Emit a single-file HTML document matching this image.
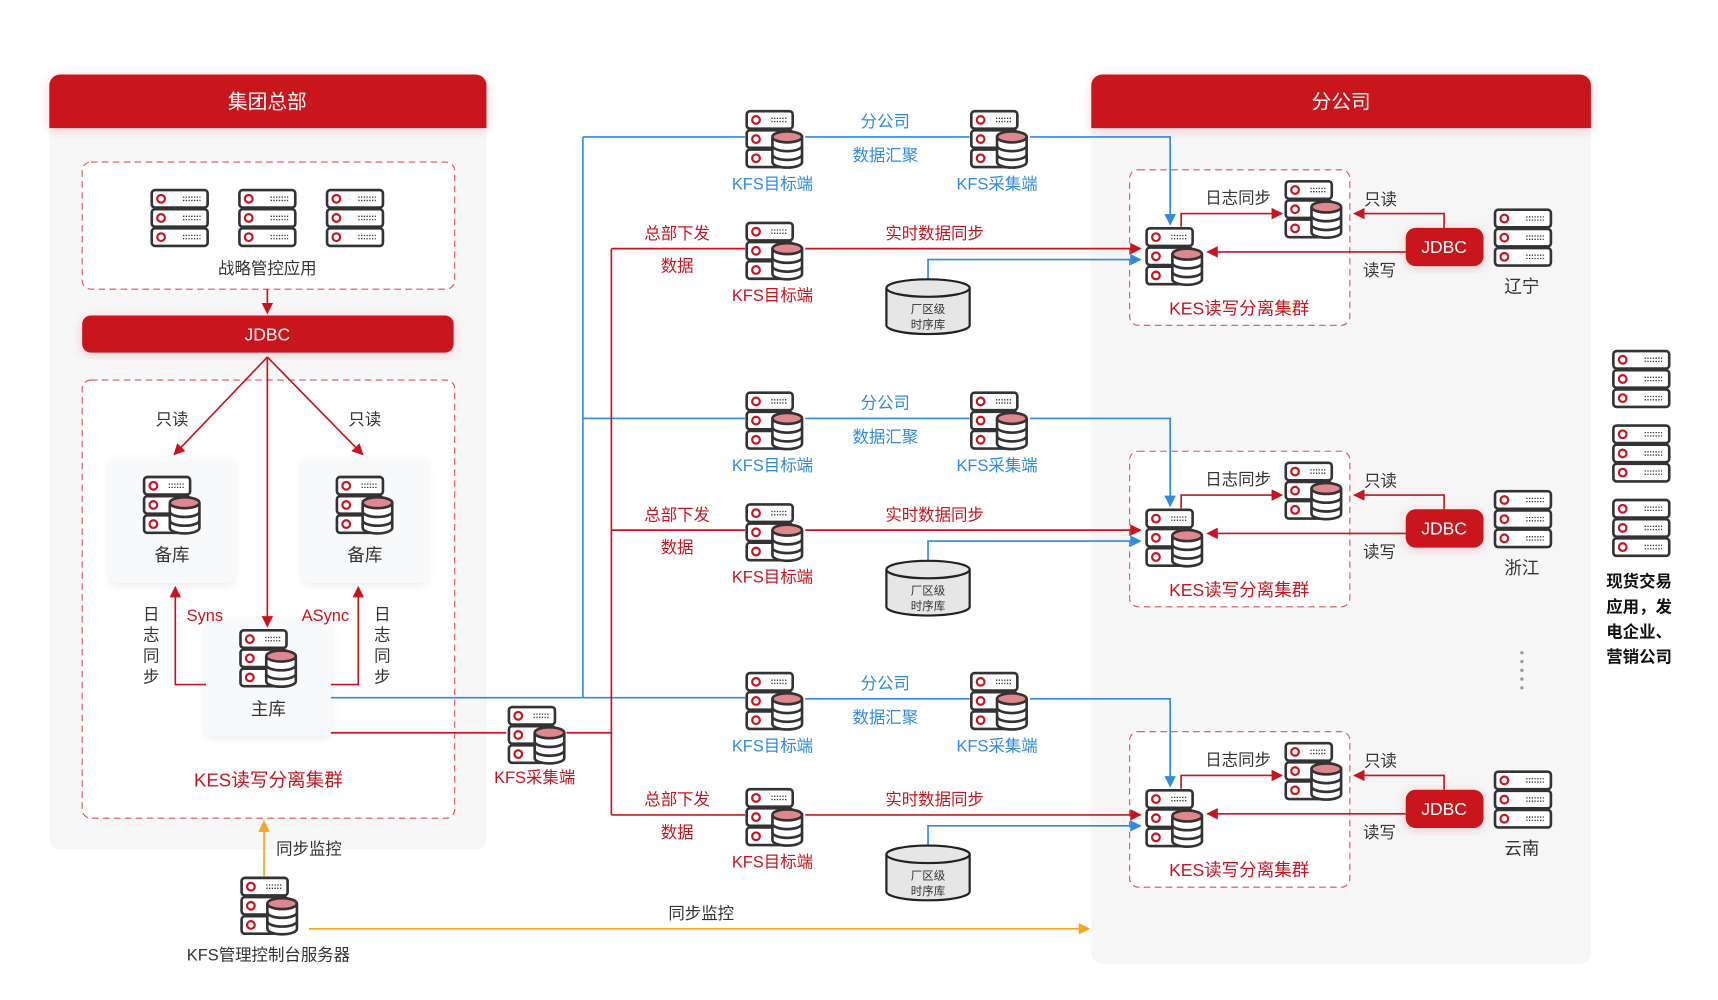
<!DOCTYPE html>
<html><head><meta charset="utf-8"><style>
html,body{margin:0;padding:0;background:#fff;width:1718px;height:1000px;overflow:hidden}
svg{display:block}
text{font-family:"Liberation Sans","Noto Sans CJK SC",sans-serif}
</style></head><body>
<svg width="1718" height="1000" viewBox="0 0 1568 913" preserveAspectRatio="none" xmlns="http://www.w3.org/2000/svg">
<defs>
<marker id="ar" viewBox="0 0 10 10" refX="9" refY="5" markerWidth="7" markerHeight="7" orient="auto-start-reverse"><path d="M0,0L10,5L0,10z" fill="#c8141f"/></marker>
<marker id="ab" viewBox="0 0 10 10" refX="9" refY="5" markerWidth="7" markerHeight="7" orient="auto-start-reverse"><path d="M0,0L10,5L0,10z" fill="#2f8ae0"/></marker>
<marker id="ao" viewBox="0 0 10 10" refX="9" refY="5" markerWidth="7" markerHeight="7" orient="auto-start-reverse"><path d="M0,0L10,5L0,10z" fill="#f5a623"/></marker>
<symbol id="rack" viewBox="0 0 54 54">
<g stroke="#333" stroke-width="2.4" fill="#fff">
<rect x="1.5" y="1.5" width="51" height="16" rx="3"/><rect x="1.5" y="19" width="51" height="16" rx="3"/><rect x="1.5" y="36.5" width="51" height="16" rx="3"/></g>
<g stroke="#c8141f" stroke-width="2" fill="none"><circle cx="10" cy="9.5" r="3.5"/><circle cx="10" cy="27" r="3.5"/><circle cx="10" cy="44.5" r="3.5"/></g>
<g stroke="#333" stroke-width="1.2" stroke-dasharray="1.2 1.3"><path d="M30 8H46M30 11H46M30 25.5H46M30 28.5H46M30 43H46M30 46H46"/></g>
</symbol>
<symbol id="db" viewBox="0 0 54 56">
<g stroke="#333" stroke-width="2.4" fill="#fff">
<rect x="1.5" y="1.5" width="42" height="16" rx="3"/><rect x="1.5" y="19" width="42" height="16" rx="3"/><rect x="1.5" y="36.5" width="42" height="16" rx="3"/></g>
<g stroke="#c8141f" stroke-width="2" fill="none"><circle cx="10" cy="9.5" r="3.5"/><circle cx="10" cy="27" r="3.5"/><circle cx="10" cy="44.5" r="3.5"/></g>
<g stroke="#333" stroke-width="1.2" stroke-dasharray="1.2 1.3"><path d="M24 8H38M24 11H38"/></g>
<path d="M25 25V48A13.5 5 0 0 0 52 48V25" fill="#fff" stroke="#333" stroke-width="2.4"/>
<path d="M25 33A13.5 5 0 0 0 52 33M25 41A13.5 5 0 0 0 52 41" fill="none" stroke="#333" stroke-width="2.4"/>
<ellipse cx="38.5" cy="25" rx="13.5" ry="5" fill="#e0868d" stroke="#333" stroke-width="2.4"/>
</symbol>
<symbol id="cyl" viewBox="0 0 80 54">
<path d="M2 10V44A38 8 0 0 0 78 44V10" fill="#e6e6e6" stroke="#222" stroke-width="2"/>
<ellipse cx="40" cy="10" rx="38" ry="8" fill="#e6e6e6" stroke="#222" stroke-width="2"/>
</symbol>
<filter id="sh" x="-20%" y="-20%" width="140%" height="140%"><feDropShadow dx="0" dy="2" stdDeviation="5" flood-color="#c8141f" flood-opacity="0.18"/></filter>
<filter id="sg" x="-20%" y="-20%" width="140%" height="140%"><feDropShadow dx="0" dy="2" stdDeviation="4" flood-color="#000" flood-opacity="0.08"/></filter>
<g id="rowbase">
<rect x="1031" y="155" width="201" height="142" rx="8" fill="#fff" stroke="#e0505a" stroke-width="1" stroke-dasharray="6 4"/>
<use href="#db" x="680" y="100" width="54" height="56"/>
<use href="#db" x="885" y="100" width="54" height="56"/>
<use href="#db" x="1045" y="207" width="54" height="56"/>
<use href="#db" x="1172" y="164" width="54" height="56"/>
<g fill="none" stroke-width="1.5">
<line x1="735" y1="125" x2="885" y2="125" stroke="#2f8ae0"/>
<polyline points="940,125 1068,125 1068,205" stroke="#2f8ae0" marker-end="url(#ab)"/>
</g>
<g fill="none" stroke="#c8141f" stroke-width="1.5">
<polyline points="1078,207 1078,195 1170,195" marker-end="url(#ar)"/>
<polyline points="1318,208 1318,195 1236,195" marker-end="url(#ar)"/>
<line x1="1283" y1="230" x2="1102" y2="230" marker-end="url(#ar)"/>
</g>
<rect x="1283" y="208" width="71" height="35" rx="9" fill="#c8141f" filter="url(#sh)"/>
<use href="#rack" x="1363" y="190" width="54" height="54"/>
</g>
</defs>

<!-- Left panel -->
<rect x="45" y="68" width="399" height="708" rx="10" fill="#f7f7f7"/>
<path d="M45 117V78A10 10 0 0 1 55 68H434A10 10 0 0 1 444 78V117Z" fill="#c8141f" filter="url(#sh)"/>
<text x="244" y="99" font-size="18" fill="#fff" text-anchor="middle">集团总部</text>
<rect x="75" y="148" width="340" height="116" rx="8" fill="#fff" stroke="#e0505a" stroke-width="1" stroke-dasharray="6 4"/>
<use href="#rack" x="137" y="172" width="54" height="54"/>
<use href="#rack" x="217" y="172" width="54" height="54"/>
<use href="#rack" x="297" y="172" width="54" height="54"/>
<text x="244" y="250" font-size="15" fill="#333" text-anchor="middle">战略管控应用</text>
<line x1="244" y1="264" x2="244" y2="286" stroke="#c8141f" stroke-width="1.5" marker-end="url(#ar)"/>
<rect x="75" y="288" width="339" height="34" rx="8" fill="#c8141f" filter="url(#sh)"/>
<text x="244" y="311" font-size="16" fill="#fff" text-anchor="middle">JDBC</text>
<rect x="75" y="347" width="340" height="400" rx="8" fill="#fff" stroke="#e0505a" stroke-width="1" stroke-dasharray="6 4"/>
<rect x="100" y="418" width="114" height="114" rx="6" fill="#f8f9fb" filter="url(#sg)"/>
<rect x="276" y="418" width="114" height="114" rx="6" fill="#f8f9fb" filter="url(#sg)"/>
<rect x="188" y="565" width="114" height="107" rx="6" fill="#f8f9fb" filter="url(#sg)"/>
<use href="#db" x="130" y="434" width="54" height="56"/>
<use href="#db" x="306" y="434" width="54" height="56"/>
<use href="#db" x="218" y="574" width="54" height="56"/>
<text x="157" y="512" font-size="16" fill="#333" text-anchor="middle">备库</text>
<text x="333" y="512" font-size="16" fill="#333" text-anchor="middle">备库</text>
<text x="245" y="653" font-size="16" fill="#333" text-anchor="middle">主库</text>
<g stroke="#c8141f" stroke-width="1.5" fill="none">
<line x1="244" y1="326" x2="159" y2="415" marker-end="url(#ar)"/>
<line x1="244" y1="326" x2="331" y2="415" marker-end="url(#ar)"/>
<line x1="244" y1="326" x2="244" y2="572" marker-end="url(#ar)"/>
<polyline points="188,625 160,625 160,536" marker-end="url(#ar)"/>
<polyline points="302,625 327,625 327,536" marker-end="url(#ar)"/>
</g>
<text x="157" y="388" font-size="15" fill="#333" text-anchor="middle">只读</text>
<text x="333" y="388" font-size="15" fill="#333" text-anchor="middle">只读</text>
<text x="187" y="567" font-size="15" fill="#c8141f" text-anchor="middle">Syns</text>
<text x="297" y="567" font-size="15" fill="#c8141f" text-anchor="middle">ASync</text>
<g font-size="15" fill="#333" text-anchor="middle">
<text x="138" y="566">日</text><text x="138" y="585">志</text><text x="138" y="604">同</text><text x="138" y="623">步</text>
<text x="349" y="566">日</text><text x="349" y="585">志</text><text x="349" y="604">同</text><text x="349" y="623">步</text>
</g>
<text x="245" y="718" font-size="17" fill="#c8141f" text-anchor="middle">KES读写分离集群</text>

<!-- Right panel -->
<rect x="996" y="68" width="456" height="812" rx="10" fill="#f6f6f6"/>
<path d="M996 117V78A10 10 0 0 1 1006 68H1442A10 10 0 0 1 1452 78V117Z" fill="#c8141f" filter="url(#sh)"/>
<text x="1224" y="99" font-size="18" fill="#fff" text-anchor="middle">分公司</text>

<!-- trunk lines -->
<g fill="none" stroke-width="1.5">
<line x1="532" y1="125" x2="532" y2="637" stroke="#2f8ae0"/>
<line x1="302" y1="637" x2="680" y2="637" stroke="#2f8ae0"/>
<line x1="532" y1="125" x2="680" y2="125" stroke="#2f8ae0"/>
<line x1="532" y1="382" x2="680" y2="382" stroke="#2f8ae0"/>
<line x1="558" y1="227" x2="558" y2="744" stroke="#c8141f"/>
<line x1="302" y1="669" x2="462" y2="669" stroke="#c8141f"/>
<line x1="517" y1="669" x2="558" y2="669" stroke="#c8141f"/>
</g>
<use href="#db" x="463" y="644" width="54" height="56"/>
<text x="488" y="715" font-size="15" fill="#c8141f" text-anchor="middle">KFS采集端</text>

<!-- Row 1 -->
<g>
<use href="#rowbase"/>
<g fill="none" stroke-width="1.5">
<line x1="558" y1="227" x2="680" y2="227" stroke="#c8141f"/>
<line x1="735" y1="227" x2="1041" y2="227" stroke="#c8141f" marker-end="url(#ar)"/>
<polyline points="847,256 847,237 1041,237" stroke="#2f8ae0" marker-end="url(#ab)"/>
</g>
<use href="#db" x="680" y="202" width="54" height="56"/>
<use href="#cyl" x="807" y="253" width="80" height="54"/>
<text x="705" y="173" font-size="15" fill="#2f8ae0" text-anchor="middle">KFS目标端</text>
<text x="910" y="173" font-size="15" fill="#2f8ae0" text-anchor="middle">KFS采集端</text>
<text x="808" y="116" font-size="15" fill="#2f8ae0" text-anchor="middle">分公司</text>
<text x="808" y="147" font-size="15" fill="#2f8ae0" text-anchor="middle">数据汇聚</text>
<text x="618" y="218" font-size="15" fill="#c8141f" text-anchor="middle">总部下发</text>
<text x="618" y="248" font-size="15" fill="#c8141f" text-anchor="middle">数据</text>
<text x="705" y="275" font-size="15" fill="#c8141f" text-anchor="middle">KFS目标端</text>
<text x="853" y="218" font-size="15" fill="#c8141f" text-anchor="middle">实时数据同步</text>
<text x="847" y="286" font-size="10.5" fill="#333" text-anchor="middle">厂区级</text>
<text x="847" y="300" font-size="10.5" fill="#333" text-anchor="middle">时序库</text>
<text x="1130" y="186" font-size="15" fill="#333" text-anchor="middle">日志同步</text>
<text x="1260" y="187" font-size="15" fill="#333" text-anchor="middle">只读</text>
<text x="1259" y="252" font-size="15" fill="#333" text-anchor="middle">读写</text>
<text x="1318" y="231" font-size="16" fill="#fff" text-anchor="middle">JDBC</text>
<text x="1131" y="287" font-size="16" fill="#c8141f" text-anchor="middle">KES读写分离集群</text>
<text x="1389" y="267" font-size="16" fill="#333" text-anchor="middle">辽宁</text>
</g>

<!-- Row 2 -->
<g transform="translate(0,257)">
<use href="#rowbase"/>
<g fill="none" stroke-width="1.5">
<line x1="558" y1="227" x2="680" y2="227" stroke="#c8141f"/>
<line x1="735" y1="227" x2="1041" y2="227" stroke="#c8141f" marker-end="url(#ar)"/>
<polyline points="847,256 847,237 1041,237" stroke="#2f8ae0" marker-end="url(#ab)"/>
</g>
<use href="#db" x="680" y="202" width="54" height="56"/>
<use href="#cyl" x="807" y="253" width="80" height="54"/>
<text x="705" y="173" font-size="15" fill="#2f8ae0" text-anchor="middle">KFS目标端</text>
<text x="910" y="173" font-size="15" fill="#2f8ae0" text-anchor="middle">KFS采集端</text>
<text x="808" y="116" font-size="15" fill="#2f8ae0" text-anchor="middle">分公司</text>
<text x="808" y="147" font-size="15" fill="#2f8ae0" text-anchor="middle">数据汇聚</text>
<text x="618" y="218" font-size="15" fill="#c8141f" text-anchor="middle">总部下发</text>
<text x="618" y="248" font-size="15" fill="#c8141f" text-anchor="middle">数据</text>
<text x="705" y="275" font-size="15" fill="#c8141f" text-anchor="middle">KFS目标端</text>
<text x="853" y="218" font-size="15" fill="#c8141f" text-anchor="middle">实时数据同步</text>
<text x="847" y="286" font-size="10.5" fill="#333" text-anchor="middle">厂区级</text>
<text x="847" y="300" font-size="10.5" fill="#333" text-anchor="middle">时序库</text>
<text x="1130" y="186" font-size="15" fill="#333" text-anchor="middle">日志同步</text>
<text x="1260" y="187" font-size="15" fill="#333" text-anchor="middle">只读</text>
<text x="1259" y="252" font-size="15" fill="#333" text-anchor="middle">读写</text>
<text x="1318" y="231" font-size="16" fill="#fff" text-anchor="middle">JDBC</text>
<text x="1131" y="287" font-size="16" fill="#c8141f" text-anchor="middle">KES读写分离集群</text>
<text x="1389" y="267" font-size="16" fill="#333" text-anchor="middle">浙江</text>
</g>

<!-- Row 3 -->
<g transform="translate(0,513)">
<use href="#rowbase"/>
<g fill="none" stroke-width="1.5">
<line x1="558" y1="231" x2="680" y2="231" stroke="#c8141f"/>
<line x1="735" y1="231" x2="1041" y2="231" stroke="#c8141f" marker-end="url(#ar)"/>
<polyline points="847,258 847,241 1041,241" stroke="#2f8ae0" marker-end="url(#ab)"/>
</g>
<use href="#db" x="680" y="206" width="54" height="56"/>
<use href="#cyl" x="807" y="257" width="80" height="54"/>
<text x="705" y="173" font-size="15" fill="#2f8ae0" text-anchor="middle">KFS目标端</text>
<text x="910" y="173" font-size="15" fill="#2f8ae0" text-anchor="middle">KFS采集端</text>
<text x="808" y="116" font-size="15" fill="#2f8ae0" text-anchor="middle">分公司</text>
<text x="808" y="147" font-size="15" fill="#2f8ae0" text-anchor="middle">数据汇聚</text>
<text x="618" y="222" font-size="15" fill="#c8141f" text-anchor="middle">总部下发</text>
<text x="618" y="252" font-size="15" fill="#c8141f" text-anchor="middle">数据</text>
<text x="705" y="279" font-size="15" fill="#c8141f" text-anchor="middle">KFS目标端</text>
<text x="853" y="222" font-size="15" fill="#c8141f" text-anchor="middle">实时数据同步</text>
<text x="847" y="290" font-size="10.5" fill="#333" text-anchor="middle">厂区级</text>
<text x="847" y="304" font-size="10.5" fill="#333" text-anchor="middle">时序库</text>
<text x="1130" y="186" font-size="15" fill="#333" text-anchor="middle">日志同步</text>
<text x="1260" y="187" font-size="15" fill="#333" text-anchor="middle">只读</text>
<text x="1259" y="252" font-size="15" fill="#333" text-anchor="middle">读写</text>
<text x="1318" y="231" font-size="16" fill="#fff" text-anchor="middle">JDBC</text>
<text x="1131" y="287" font-size="16" fill="#c8141f" text-anchor="middle">KES读写分离集群</text>
<text x="1389" y="267" font-size="16" fill="#333" text-anchor="middle">云南</text>
</g>

<!-- dots -->
<g fill="#999"><circle cx="1389" cy="596" r="1.5"/><circle cx="1389" cy="604" r="1.5"/><circle cx="1389" cy="612" r="1.5"/><circle cx="1389" cy="620" r="1.5"/><circle cx="1389" cy="628" r="1.5"/></g>

<!-- legend -->
<use href="#rack" x="1471" y="319" width="54" height="54"/>
<use href="#rack" x="1471" y="387" width="54" height="54"/>
<use href="#rack" x="1471" y="455" width="54" height="54"/>
<g font-size="15" fill="#111" font-weight="bold">
<text x="1466" y="536">现货交易</text>
<text x="1466" y="559">应用，发</text>
<text x="1466" y="582">电企业、</text>
<text x="1466" y="605">营销公司</text>
</g>

<!-- monitor -->
<use href="#db" x="219" y="800" width="54" height="56"/>
<line x1="241" y1="800" x2="241" y2="750" stroke="#f5a623" stroke-width="1.5" marker-end="url(#ao)"/>
<text x="252" y="780" font-size="15" fill="#333">同步监控</text>
<line x1="282" y1="848" x2="994" y2="848" stroke="#f5a623" stroke-width="1.5" marker-end="url(#ao)"/>
<text x="640" y="839" font-size="15" fill="#333" text-anchor="middle">同步监控</text>
<text x="245" y="877" font-size="15" fill="#333" text-anchor="middle">KFS管理控制台服务器</text>
</svg>
</body></html>
